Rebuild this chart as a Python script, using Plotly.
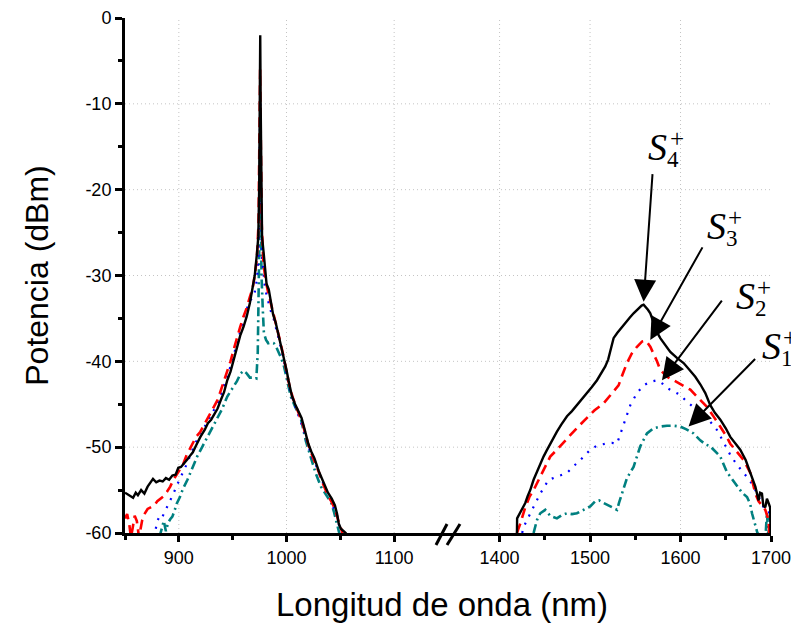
import plotly.graph_objects as go

# ---------------- data ----------------
# Left segment (around the 976 nm pump)
wl_L_S4 = [850, 854, 857.5, 860, 862, 865, 868, 871, 874, 876, 879, 882, 885, 888, 891, 894, 897, 899.5,
           902, 905, 908, 911, 913, 916, 920, 924, 927, 930, 933, 936, 939, 942, 945, 948, 951, 954, 957,
           960, 963, 966, 968.5, 970.5, 972.5, 973.8, 974.6, 975.2, 975.6, 976.0, 976.6, 977.3, 978.5,
           980, 981.5, 983.5, 985.5, 987.5, 990, 992, 994.5, 997, 1000, 1002, 1005, 1008, 1011, 1014,
           1017, 1020, 1023, 1026, 1030, 1034, 1038.5, 1042, 1045, 1047, 1048.5, 1050.5, 1053, 1055, 1057]
p_L_S4 = [-55.3, -55.6, -55.9, -55.3, -55.6, -55.0, -55.4, -54.6, -54.0, -53.7, -54.1, -53.9, -54.0, -53.6,
          -53.8, -53.3, -53.2, -52.4, -52.3, -51.9, -51.4, -50.9, -50.6, -49.8, -48.8, -48.0, -47.2, -46.8,
          -46.2, -45.5, -44.5, -43.6, -42.2, -41.2, -39.8, -38.4, -37.0, -36.0, -34.8, -33.2, -31.5, -30.0,
          -27.5, -25.5, -20, -10, -2.0, -10, -20, -25.5, -27.0, -29.0, -31.0, -31.6, -33.0, -34.5, -35.5,
          -36.6, -37.8, -39.0, -41.0, -42.3, -44.0, -45.0, -45.8, -46.6, -48.0, -49.5, -50.5, -51.3, -52.8,
          -54.0, -55.3, -56.0, -56.8, -57.8, -58.9, -59.5, -59.8, -60, -60.5]

wl_L_S3 = [850, 852, 854, 855.5, 857, 859, 861, 863, 866, 868, 871, 874, 877, 880, 883, 886, 889, 892, 895,
           898, 901, 904, 907, 910, 913, 916, 920, 924, 928, 932, 936, 940, 944, 948, 951, 954, 957, 960,
           963, 966, 968.5, 970.5, 972.5, 974, 974.8, 975.5, 976.2, 977, 978.5, 980.5, 983, 985.5, 988,
           991, 994, 997, 1000, 1003, 1006, 1009, 1012, 1015, 1018, 1021, 1024, 1027, 1030, 1034, 1038,
           1042, 1045, 1048, 1050, 1052, 1054]
p_L_S3 = [-58.3, -57.8, -59.0, -60.5, -59.5, -58.0, -58.6, -60.5, -58.5, -57.8, -57.2, -57.0, -56.8, -56.3,
          -56.0, -55.7, -55.2, -54.6, -53.8, -53.2, -52.6, -52.0, -51.0, -50.3, -49.5, -48.8, -48.2, -47.3,
          -46.3, -45.5, -44.5, -43.0, -41.5, -40.0, -38.6, -37.2, -36.0, -34.8, -33.8, -32.5, -31.5, -30.0,
          -28.0, -24, -15, -6.0, -15, -24, -28.5, -30.5, -32.0, -33.2, -34.6, -36.0, -37.6, -39.3, -41.3,
          -43.0, -44.3, -45.4, -46.3, -47.3, -48.8, -50.0, -51.0, -51.9, -52.9, -54.3, -55.5, -56.4, -57.2,
          -58.5, -59.3, -60, -60.5]

wl_L_S2 = [876, 878, 880, 882, 884, 886, 888, 890, 892, 895, 898, 901, 904, 908, 912, 916, 920, 924, 928,
           932, 936, 940, 944, 948, 952, 955, 958, 961, 964, 967, 970, 972.5, 974, 975, 975.6, 976.3,
           977.3, 978.5, 980, 982, 985, 988, 991, 994, 997, 1000, 1004, 1008, 1012, 1016, 1020, 1024,
           1028, 1032, 1036, 1040, 1044, 1047, 1049, 1051, 1053]
p_L_S2 = [-60.5, -59.9, -58.6, -58.1, -58.3, -57.8, -57.2, -56.7, -56.2, -55.4, -54.5, -53.7, -52.9, -51.8,
          -50.5, -49.3, -48.3, -47.6, -46.7, -45.8, -44.9, -43.5, -42.0, -40.6, -38.8, -37.6, -36.0, -34.6,
          -33.6, -32.8, -32.3, -30.5, -28, -20, -10.0, -20, -28, -29.5, -31.5, -32.5, -34.0, -35.0, -36.4,
          -38.0, -39.6, -41.4, -43.8, -45.2, -46.5, -48.0, -49.8, -51.2, -52.3, -53.6, -54.8, -55.9, -57.0,
          -58.0, -59.2, -60.0, -60.5]

wl_L_S1 = [882, 884, 886, 888, 890, 892, 894, 896, 898, 901, 904, 908, 912, 917, 922, 926.6, 931, 936, 940,
           945, 948, 951, 954, 957.5, 960, 963, 966, 969.6, 972, 973.3, 974.2, 974.9, 975.5, 976.1, 976.8,
           978, 979, 981, 983, 986, 988.3, 990, 992, 995, 997.7, 1001, 1004, 1008, 1013.6, 1018, 1023,
           1027, 1032, 1037, 1041.6, 1044, 1046, 1048, 1050]
p_L_S1 = [-60.5, -59.5, -58.6, -59.8, -58.8, -58.4, -58.1, -57.4, -56.6, -55.8, -54.8, -53.8, -52.5, -51.1,
          -49.9, -48.8, -47.6, -46.5, -45.6, -44.1, -43.5, -43.0, -42.3, -41.4, -41.1, -41.4, -41.9, -41.9,
          -42.0, -39, -33, -25, -16.0, -25, -30, -34, -36.7, -37.5, -37.9, -37.8, -37.9, -38.2, -38.7,
          -39.6, -40.6, -42.4, -44.1, -45.3, -46.8, -49.3, -51.5, -53.0, -54.6, -55.6, -56.5, -57.5, -58.5,
          -59.5, -60.5]

# Right segment (signal band)
wl_R_S4 = [1418, 1419.2, 1419.4, 1422, 1424.8, 1428.4, 1431, 1433.9, 1437.6, 1440, 1443.1, 1448.6, 1452,
           1456, 1460, 1463.4, 1468, 1474.5, 1480, 1485.6, 1491, 1496.6, 1502, 1507.7, 1512, 1516.8, 1520,
           1522.4, 1526, 1530, 1535.3, 1540.8, 1544, 1548.1, 1553.6, 1557, 1559.2, 1561, 1564, 1566.6,
           1570.2, 1574, 1577.6, 1583, 1588.7, 1596, 1603.4, 1610, 1616.3, 1622, 1627.4, 1632.9, 1638, 1644,
           1650, 1655, 1660, 1666, 1672, 1677.2, 1682.7, 1686.3, 1688, 1690, 1691.5, 1693.7, 1695.5, 1697.3,
           1699, 1699.6, 1700]
p_R_S4 = [-61, -60, -58.3, -57.8, -57.3, -56.5, -55.7, -55.0, -53.8, -53.2, -52.3, -51.1, -50.4, -49.6,
          -48.9, -48.2, -47.4, -46.4, -45.8, -45.1, -44.4, -43.7, -43.0, -42.2, -41.4, -40.6, -39.8, -38.7,
          -37.3, -36.7, -36.0, -35.2, -34.9, -34.4, -33.8, -33.5, -33.4, -33.6, -34.0, -34.4, -35.6, -36.6,
          -37.3, -38.1, -38.9, -39.6, -40.2, -41.0, -41.8, -42.7, -43.7, -45.1, -46.0, -46.8, -47.8, -48.8,
          -49.5, -50.3, -51.5, -53.0, -54.6, -56.2, -55.3, -55.4, -56.8, -57.0, -56.0, -56.5, -57.0, -60, -60]

wl_R_S3 = [1419.2, 1422.9, 1428.4, 1433, 1437.6, 1445, 1450, 1456, 1463.4, 1470, 1478.1, 1487, 1496.6, 1505,
           1515, 1524, 1531.5, 1536, 1540.8, 1546, 1551.9, 1557.4, 1562, 1566.6, 1570.2, 1574, 1577.6, 1585,
           1592.3, 1600, 1610.8, 1620, 1629.2, 1637, 1644, 1650, 1655, 1662, 1669.7, 1677.2, 1682.7, 1686.3,
           1690, 1693.7, 1697.3, 1698]
p_R_S3 = [-60, -58.9, -57.0, -55.8, -55.0, -53.4, -52.2, -51.1, -50.3, -49.5, -48.6, -47.6, -46.6, -45.7,
          -44.9, -43.8, -42.8, -41.5, -40.2, -39.1, -38.3, -37.7, -37.6, -38.3, -39.1, -40.0, -41.0, -41.8,
          -42.2, -42.7, -43.3, -44.3, -45.3, -46.5, -47.6, -48.6, -49.6, -50.5, -51.5, -53.0, -55.4, -56.3,
          -56.8, -57.3, -58.5, -60]

wl_R_S2 = [1425, 1426.5, 1430.3, 1437.6, 1445, 1454.2, 1463.4, 1474.5, 1482, 1489.2, 1500.2, 1508, 1516.8,
           1524, 1529.8, 1535.3, 1540.8, 1544.5, 1551.9, 1559.2, 1566, 1574, 1580, 1585, 1592, 1599.7, 1607,
           1614.4, 1622, 1629.2, 1635, 1640.3, 1648, 1655, 1662, 1669.7, 1676, 1680.8, 1686.3, 1691.8,
           1697.3, 1699.2, 1700]
p_R_S2 = [-60, -59.3, -58.5, -57.0, -55.4, -53.8, -53.4, -53.0, -52.2, -51.5, -50.3, -49.8, -49.6, -49.5,
          -49.6, -48.0, -46.3, -45.1, -43.7, -42.8, -42.4, -42.2, -42.6, -43.1, -43.5, -43.9, -44.7, -45.3,
          -46.0, -46.6, -47.3, -48.0, -49.5, -50.9, -52.0, -53.0, -53.8, -54.6, -55.8, -57.0, -57.3, -58.5,
          -59]

wl_R_S1 = [1437.6, 1441.3, 1445, 1450.5, 1456, 1463.4, 1469, 1474.5, 1480, 1485.5, 1492.8, 1500.2, 1505.8,
           1510, 1515, 1520, 1526, 1529.8, 1532, 1535.3, 1540.8, 1548.1, 1552, 1555.5, 1562.9, 1570, 1577.6,
           1585, 1592, 1599.7, 1606, 1614.4, 1621.8, 1628, 1632.9, 1639, 1644, 1651.3, 1656, 1662.4, 1668,
           1673.5, 1677, 1679, 1682.7, 1685, 1690, 1694, 1695.5, 1697, 1699, 1700]
p_R_S1 = [-60, -58.5, -57.7, -57.3, -58.0, -58.3, -57.9, -57.7, -57.8, -57.7, -57.3, -56.9, -56.3, -56.2,
          -56.5, -56.8, -57.1, -57.3, -56.5, -55.4, -53.6, -52.3, -51.0, -49.9, -48.4, -47.8, -47.6, -47.5,
          -47.5, -47.6, -47.9, -48.4, -49.2, -49.7, -49.9, -50.5, -51.1, -52.9, -53.6, -54.6, -55.3, -55.8,
          -56.6, -57.7, -59.3, -60, -60.5, -60.3, -57.6, -60.3, -58, -58]

# Axis ticks
x_left_range = [850, 1150]
x_right_range = [1343, 1700]
x_left_ticks = [900, 1000, 1100]
x_right_ticks = [1400, 1500, 1600, 1700]
x_left_minor = [850, 950, 1050]
x_right_minor = [1450, 1550, 1650]
y_ticks = [-60, -50, -40, -30, -20, -10, 0]
y_ticklabels = ["-60", "-50", "-40", "-30", "-20", "-10", "0"]

# Annotated arrows
arrow_idx = ["4", "3", "2", "1"]
arrow_wl = [1559.2, 1566.6, 1579.5, 1608.9]
arrow_p = [-33.05, -37.5, -42.2, -47.6]
arrow_ax = [9, 53, 61, 68]
arrow_ay = [-129, -94, -81, -69]

# ---------------- styles ----------------
S4_style = dict(color="black", width=2.4)
S3_style = dict(color="#ff0000", width=2.6, dash="10px,6px")
S2_style = dict(color="#0000ff", width=2.2, dash="2px,7px")
S1_style = dict(color="#008080", width=2.6, dash="9px,4px,2px,4px")

fig = go.Figure()
for xs, ys, st in [(wl_L_S1, p_L_S1, S1_style), (wl_L_S2, p_L_S2, S2_style),
                   (wl_L_S3, p_L_S3, S3_style), (wl_L_S4, p_L_S4, S4_style)]:
    fig.add_trace(go.Scatter(x=xs, y=ys, mode="lines", line=st, xaxis="x", yaxis="y", showlegend=False))
for xs, ys, st in [(wl_R_S1, p_R_S1, S1_style), (wl_R_S2, p_R_S2, S2_style),
                   (wl_R_S3, p_R_S3, S3_style), (wl_R_S4, p_R_S4, S4_style)]:
    fig.add_trace(go.Scatter(x=xs, y=ys, mode="lines", line=st, xaxis="x2", yaxis="y", showlegend=False))

sans = "Liberation Sans"
tickfont = dict(family=sans, size=18, color="black")
common_x = dict(showline=True, linecolor="black", linewidth=3, ticks="outside", ticklen=6, tickwidth=2.5,
                tickcolor="black", tickfont=tickfont, zeroline=False, showgrid=False)

# page body has an 8px margin: size the figure so the plot area lands where the reference has it
fig.update_layout(
    width=791, height=617,
    margin=dict(l=117, r=28, t=10, b=92, autoexpand=False),
    paper_bgcolor="white", plot_bgcolor="white",
    font=dict(family=sans, color="black"),
    xaxis=dict(domain=[0, 0.5], range=x_left_range, tickmode="array", tickvals=x_left_ticks,
               minor=dict(tickmode="array", tickvals=x_left_minor, ticks="outside", ticklen=4, tickwidth=2.5,
                          tickcolor="black", showgrid=False),
               anchor="y", **common_x),
    xaxis2=dict(domain=[0.5, 1], range=x_right_range, tickmode="array", tickvals=x_right_ticks,
                minor=dict(tickmode="array", tickvals=x_right_minor, ticks="outside", ticklen=4, tickwidth=2.5,
                           tickcolor="black", showgrid=False),
                anchor="y", **common_x),
    yaxis=dict(range=[-60, 0], tickmode="array", tickvals=y_ticks, ticktext=y_ticklabels, showline=True,
               linecolor="black", linewidth=3, ticks="outside", ticklen=7, tickwidth=2.5, tickcolor="black",
               tickfont=tickfont, zeroline=False, showgrid=False,
               minor=dict(dtick=5, tick0=0, ticks="outside", ticklen=4, tickwidth=2.5, tickcolor="black",
                          showgrid=False),
               title=dict(text="Potencia (dBm)", standoff=28, font=dict(family=sans, size=32, color="black"))),
)

# dotted grid lines (inner ticks only)
gridline = dict(color="#c4c4c4", width=1, dash="1px,3px")
for v in y_ticks[1:-1]:
    fig.add_shape(type="line", xref="paper", yref="y", x0=0, x1=1, y0=v, y1=v, line=gridline, layer="below")
for v in x_left_ticks:
    fig.add_shape(type="line", xref="x", yref="paper", x0=v, x1=v, y0=0, y1=1, line=gridline, layer="below")
for v in x_right_ticks[:-1]:
    fig.add_shape(type="line", xref="x2", yref="paper", x0=v, x1=v, y0=0, y1=1, line=gridline, layer="below")

# x-axis title (spans both broken segments)
fig.add_annotation(text="Longitud de onda (nm)", xref="paper", yref="paper", x=0.49, y=-0.138,
                   showarrow=False, xanchor="center", yanchor="middle",
                   font=dict(family=sans, size=33, color="black"))

# axis-break marks
for x0, x1 in [(0.4814, 0.4985), (0.4985, 0.5186)]:
    fig.add_shape(type="line", xref="paper", yref="paper", x0=x0, y0=-0.0233, x1=x1, y1=0.0175,
                  line=dict(color="black", width=3))

# arrows
for i in range(4):
    fig.add_annotation(x=arrow_wl[i], y=arrow_p[i], xref="x2", yref="y", ax=arrow_ax[i], ay=arrow_ay[i],
                       axref="pixel", ayref="pixel", text="", showarrow=True, arrowhead=2, arrowsize=2.2,
                       arrowwidth=2, arrowcolor="black")

# labels S_n^+
lab_S_x = [0.825, 0.9149, 0.9598, 1.001]
lab_S_y = [0.7495, 0.5961, 0.4602, 0.3631]
serif = "Liberation Serif"
for i in range(4):
    fig.add_annotation(text="<i>S</i>", xref="paper", yref="paper", x=lab_S_x[i], y=lab_S_y[i],
                       showarrow=False, xanchor="center", yanchor="middle",
                       font=dict(family=serif, size=38, color="black"))
    fig.add_annotation(text="+", xref="paper", yref="paper", x=lab_S_x[i] + 0.029, y=lab_S_y[i] + 0.016,
                       showarrow=False, xanchor="center", yanchor="middle",
                       font=dict(family=serif, size=25, color="black"))
    fig.add_annotation(text=arrow_idx[i], xref="paper", yref="paper", x=lab_S_x[i] + 0.024,
                       y=lab_S_y[i] - 0.024, showarrow=False, xanchor="center", yanchor="middle",
                       font=dict(family=serif, size=23, color="black"))

fig.write_html("out.html")
